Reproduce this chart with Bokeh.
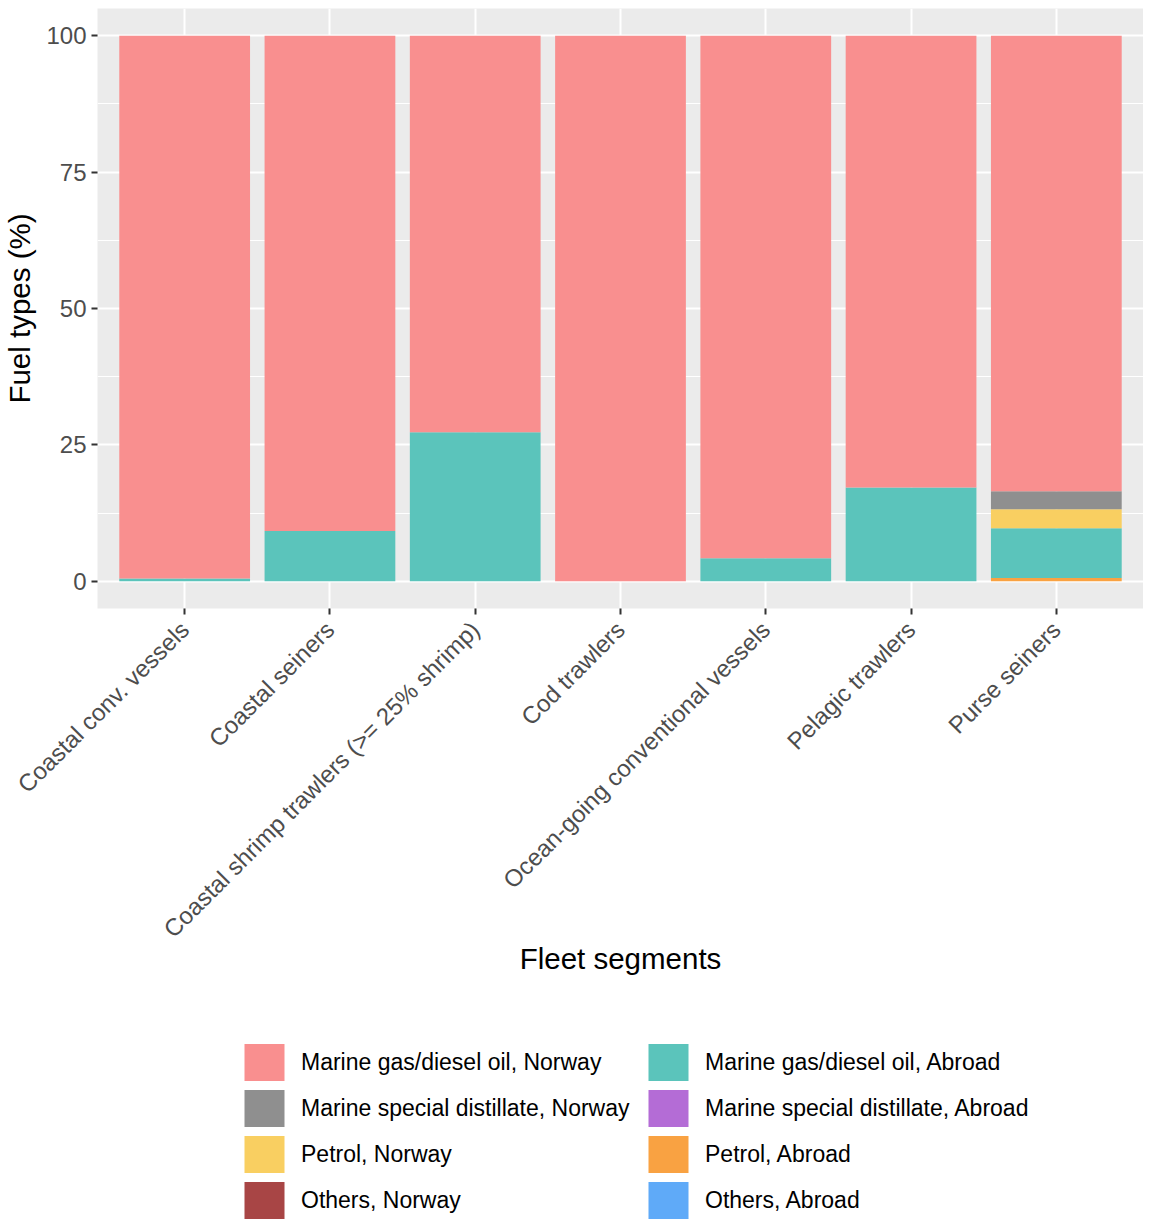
from bokeh.plotting import figure
from bokeh.models import ColumnDataSource, Range1d, FixedTicker, Legend, LegendItem
from bokeh.layouts import column
from bokeh.embed import file_html
from bokeh.resources import INLINE
import math

segments = ["Coastal conv. vessels", "Coastal seiners",
            "Coastal shrimp trawlers (>= 25% shrimp)", "Cod trawlers",
            "Ocean-going conventional vessels", "Pelagic trawlers", "Purse seiners"]

mgo_norway = [99.5, 90.8, 72.7, 100.0, 95.8, 82.8, 83.5]
msd_norway = [0.0, 0.0, 0.0, 0.0, 0.0, 0.0, 3.3]
petrol_norway = [0.0, 0.0, 0.0, 0.0, 0.0, 0.0, 3.5]
others_norway = [0.0, 0.0, 0.0, 0.0, 0.0, 0.0, 0.0]
mgo_abroad = [0.5, 9.2, 27.3, 0.0, 4.2, 17.2, 9.1]
msd_abroad = [0.0, 0.0, 0.0, 0.0, 0.0, 0.0, 0.0]
petrol_abroad = [0.0, 0.0, 0.0, 0.0, 0.0, 0.0, 0.6]
others_abroad = [0.0, 0.0, 0.0, 0.0, 0.0, 0.0, 0.0]

fuel_labels = {
    "mgo_norway": "Marine gas/diesel oil, Norway",
    "msd_norway": "Marine special distillate, Norway",
    "petrol_norway": "Petrol, Norway",
    "others_norway": "Others, Norway",
    "mgo_abroad": "Marine gas/diesel oil, Abroad",
    "msd_abroad": "Marine special distillate, Abroad",
    "petrol_abroad": "Petrol, Abroad",
    "others_abroad": "Others, Abroad",
}
fuel_colors = {
    "mgo_norway": "#F98F8F",
    "msd_norway": "#8F8F8F",
    "petrol_norway": "#F9CF61",
    "others_norway": "#A84545",
    "mgo_abroad": "#5BC4BB",
    "msd_abroad": "#B46CD6",
    "petrol_abroad": "#F9A242",
    "others_abroad": "#5FAAF8",
}
y_ticks = [0, 25, 50, 75, 100]
y_minor = [12.5, 37.5, 62.5, 87.5]

# stacking bottom -> top
stack_order = ["others_abroad", "petrol_abroad", "msd_abroad", "mgo_abroad",
               "others_norway", "petrol_norway", "msd_norway", "mgo_norway"]

xpos = list(range(1, len(segments) + 1))
data = dict(x=xpos,
            mgo_norway=mgo_norway, msd_norway=msd_norway, petrol_norway=petrol_norway,
            others_norway=others_norway, mgo_abroad=mgo_abroad, msd_abroad=msd_abroad,
            petrol_abroad=petrol_abroad, others_abroad=others_abroad)
source = ColumnDataSource(data)

FONT = "Liberation Sans"

p = figure(frame_width=1046, frame_height=600, output_backend="svg", toolbar_location=None,
           x_range=Range1d(0.4, len(segments) + 0.6), y_range=Range1d(-5, 105),
           min_border_top=8, min_border_left=90, min_border_right=0, min_border_bottom=0)

renderers = p.vbar_stack(stack_order, x="x", width=0.9, source=source,
                         color=[fuel_colors[k] for k in stack_order], line_color=None)

p.background_fill_color = "#EBEBEB"
p.border_fill_color = "white"
p.outline_line_color = None

p.xgrid.ticker = FixedTicker(ticks=xpos)
p.xgrid.grid_line_color = "white"
p.xgrid.grid_line_width = 2
p.ygrid.ticker = FixedTicker(ticks=y_ticks, minor_ticks=y_minor)
p.ygrid.grid_line_color = "white"
p.ygrid.grid_line_width = 2
p.ygrid.minor_grid_line_color = "white"
p.ygrid.minor_grid_line_width = 1
p.xgrid.level = "underlay"
p.ygrid.level = "underlay"

p.xaxis.ticker = FixedTicker(ticks=xpos)
p.xaxis.major_label_overrides = {x: s for x, s in zip(xpos, segments)}
p.xaxis.major_label_orientation = math.pi / 4
p.yaxis.ticker = FixedTicker(ticks=y_ticks, minor_ticks=[])

for ax in (p.xaxis[0], p.yaxis[0]):
    ax.axis_line_color = None
    ax.major_tick_in = 0
    ax.major_tick_out = 6
    ax.major_tick_line_color = "#333333"
    ax.major_tick_line_width = 2
    ax.minor_tick_line_color = None
    ax.major_label_text_font = FONT
    ax.major_label_text_font_size = "24px"
    ax.major_label_text_color = "#4D4D4D"
    ax.axis_label_text_font = FONT
    ax.axis_label_text_font_size = "29.5px"
    ax.axis_label_text_font_style = "normal"
    ax.axis_label_text_color = "black"

p.xaxis.axis_label = "Fleet segments"
p.yaxis.axis_label = "Fuel types (%)"
p.xaxis.major_label_standoff = 11
p.xaxis.axis_label_standoff = -13
p.yaxis.major_label_standoff = 5
p.yaxis.axis_label_standoff = 7

# legend figure: same stacked data drawn out of view, legend shows swatches
lg = figure(width=1136, height=245, output_backend="svg", toolbar_location=None,
            x_range=Range1d(100, 101), y_range=Range1d(100, 101),
            x_axis_location=None, y_axis_location=None,
            min_border=0)
lg.grid.visible = False
lg.outline_line_color = None
lg_renderers = lg.vbar_stack(stack_order, x="x", width=0.9, source=source,
                             color=[fuel_colors[k] for k in stack_order], line_color=None)
rmap = dict(zip(stack_order, lg_renderers))

legend_order = ["mgo_norway", "msd_norway", "petrol_norway", "others_norway",
                "mgo_abroad", "msd_abroad", "petrol_abroad", "others_abroad"]
items = [LegendItem(label=fuel_labels[k], renderers=[rmap[k]]) for k in legend_order]
legend = Legend(items=items, ncols=2, location=(142, 0),
                glyph_width=50, glyph_height=46, label_text_font=FONT,
                label_text_color="black", label_width=342,
                label_text_font_size="23px", label_standoff=12, spacing=0,
                background_fill_alpha=0, border_line_color=None, margin=0,
                padding=0)
lg.add_layout(legend, "center")

layout = column(p, lg, spacing=0)
open("out.html", "w").write(file_html(layout, INLINE))
